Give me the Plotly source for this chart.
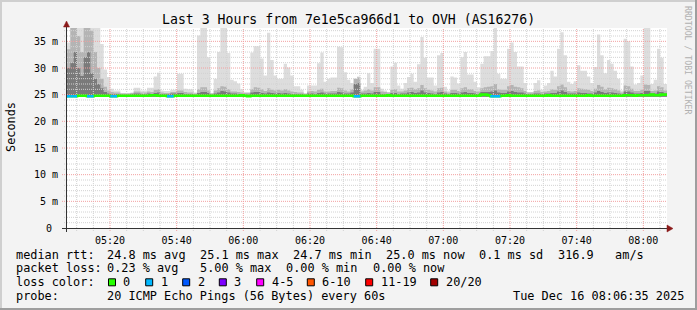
import pandas as pd
import plotly.graph_objects as go

# ---------------- data ----------------
TITLE = "Last 3 Hours from 7e1e5ca966d1 to OVH (AS16276)"
START = pd.Timestamp("2025-12-16 05:07:06")
STEP_MIN = 1
N = 180
TICK_LABELS = ["05:20", "05:40", "06:00", "06:20", "06:40", "07:00", "07:20", "07:40", "08:00"]
Y_TICKS = [0, 5, 10, 15, 20, 25, 30, 35]
Y_TICK_TEXT = ["0\u00a0", "5 m", "10 m", "15 m", "20 m", "25 m", "30 m", "35 m"]

# top of the smoke (outermost ping band), ms
rtt_max = [
    34.8, 38, 38, 38, 38, 38, 38, 38, 38, 38,
    34.5, 29.7, 28.3, 26.1, 25.8, 25.8, 25.3, 25.3, 25.3, 25.4,
    26.3, 26.3, 25.8, 25.8, 26.3, 26.3, 28.4, 29.1, 25.8, 25.7,
    25.7, 25.9, 25.9, 28.9, 28.9, 26.1, 26.0, 26.0, 25.4, 36.1,
    38, 38, 32.0, 25.3, 28.0, 33.0, 38, 38, 32.8, 27.8,
    27.5, 27.1, 26.0, 25.5, 25.5, 32.9, 34.1, 34.1, 31.8, 28.6,
    36.6, 31.5, 28.6, 28.0, 28.0, 30.8, 30.1, 28.6, 26.6, 26.6,
    25.9, 25.1, 26.7, 26.7, 26.7, 30.9, 32.9, 27.4, 28.0, 28.2,
    28.2, 34.0, 33.9, 29.2, 27.8, 27.2, 28.0, 28.4, 25.9, 26.5,
    29.0, 27.2, 33.6, 33.6, 26.1, 25.8, 25.5, 30.3, 31.0, 26.7,
    26.1, 27.2, 28.3, 28.9, 27.4, 30.7, 35.8, 31.9, 28.2, 28.2,
    26.7, 32.4, 32.8, 26.5, 25.8, 28.4, 28.2, 27.1, 32.0, 33.0,
    28.8, 28.8, 27.4, 26.4, 30.8, 32.2, 32.2, 33.2, 38, 28.9,
    28.0, 28.0, 33.6, 34.8, 33.0, 30.3, 30.3, 27.2, 25.5, 25.5,
    27.2, 27.7, 25.9, 26.7, 27.2, 29.5, 28.4, 33.6, 36.7, 32.4,
    27.4, 27.0, 27.5, 30.5, 29.5, 29.5, 28.4, 27.2, 30.2, 36.3,
    32.4, 29.0, 31.5, 30.8, 29.5, 28.0, 25.8, 35.5, 35.0, 30.3,
    26.9, 27.2, 28.6, 38, 38, 27.0, 27.8, 33.6, 31.9, 27.0,
]
# middle ping band, ms
rtt_mid = [
    33.5, 38, 38, 36, 33, 38, 38, 37, 33, 30,
    28, 26.5, 25.8, 25.5, 25.4, 25.4, 25.2, 25.2, 25.2, 25.3,
    25.6, 25.6, 25.4, 25.4, 25.6, 25.5, 25.9, 26.0, 25.4, 25.3,
    25.3, 25.5, 25.5, 25.8, 25.8, 25.5, 25.4, 25.4, 25.2, 26.0,
    26.4, 26.4, 25.8, 25.2, 25.8, 26.2, 26.6, 26.5, 26.0, 25.6,
    25.6, 25.5, 25.4, 25.3, 25.3, 26.0, 26.4, 26.3, 26.0, 25.7,
    26.2, 25.9, 25.8, 25.9, 25.8, 26.0, 25.8, 25.6, 25.5, 25.4,
    25.4, 25.2, 25.6, 25.7, 25.6, 25.9, 26.1, 25.6, 25.6, 25.7,
    25.7, 26.3, 26.2, 25.8, 25.6, 26.0, 28.0, 28.2, 25.6, 25.8,
    26.0, 25.8, 26.4, 26.4, 25.6, 25.5, 25.4, 25.9, 26.0, 25.6,
    25.6, 25.8, 26.2, 26.3, 26.0, 26.2, 26.8, 26.2, 25.9, 25.8,
    25.6, 26.2, 26.3, 25.6, 25.4, 25.9, 25.9, 25.7, 26.2, 26.4,
    26.0, 26.0, 25.7, 25.6, 26.2, 26.4, 26.5, 26.6, 27.0, 26.0,
    25.9, 25.9, 26.6, 26.8, 26.5, 26.4, 26.2, 25.7, 25.4, 25.4,
    25.7, 25.8, 25.5, 25.6, 25.7, 26.0, 25.9, 26.6, 26.9, 26.4,
    25.7, 25.6, 25.7, 26.2, 26.1, 26.0, 25.9, 25.7, 26.1, 26.8,
    26.5, 26.0, 26.3, 26.2, 26.0, 25.8, 25.4, 26.7, 26.6, 26.1,
    25.7, 25.7, 25.9, 26.9, 26.8, 25.7, 25.8, 26.6, 26.4, 25.8,
]
# inner ping band, ms
rtt_dark = [
    30, 31, 33, 30, 28.5, 32, 33, 29, 28, 27,
    26.2, 25.5, 25.2, 25.1, 25.1, 25.1, 25.0, 25.0, 25.0, 25.1,
    25.2, 25.2, 25.1, 25.1, 25.2, 25.1, 25.3, 25.4, 25.1, 25.1,
    25.1, 25.2, 25.2, 25.3, 25.3, 25.1, 25.1, 25.1, 25.0, 25.3,
    25.5, 25.5, 25.3, 25.0, 25.2, 25.4, 25.7, 25.6, 25.4, 25.2,
    25.2, 25.1, 25.1, 25.0, 25.0, 25.4, 25.5, 25.5, 25.3, 25.2,
    25.4, 25.3, 25.2, 25.3, 25.2, 25.3, 25.2, 25.1, 25.1, 25.1,
    25.1, 25.0, 25.2, 25.2, 25.1, 25.3, 25.4, 25.2, 25.2, 25.2,
    25.2, 25.5, 25.4, 25.2, 25.2, 25.4, 27.0, 27.2, 25.2, 25.2,
    25.3, 25.2, 25.5, 25.5, 25.1, 25.1, 25.0, 25.3, 25.3, 25.1,
    25.2, 25.2, 25.4, 25.5, 25.3, 25.4, 25.8, 25.4, 25.3, 25.2,
    25.1, 25.4, 25.5, 25.2, 25.1, 25.3, 25.3, 25.2, 25.4, 25.5,
    25.3, 25.3, 25.2, 25.1, 25.5, 25.5, 25.5, 25.6, 25.8, 25.4,
    25.3, 25.3, 25.6, 25.7, 25.5, 25.4, 25.4, 25.2, 25.1, 25.1,
    25.2, 25.2, 25.1, 25.2, 25.2, 25.3, 25.3, 25.6, 25.8, 25.5,
    25.2, 25.2, 25.2, 25.4, 25.3, 25.3, 25.2, 25.2, 25.4, 25.7,
    25.5, 25.3, 25.4, 25.4, 25.3, 25.2, 25.1, 25.6, 25.6, 25.4,
    25.2, 25.2, 25.3, 25.7, 25.7, 25.2, 25.2, 25.6, 25.5, 25.2,
]
rtt_median = [
    24.7, 24.7, 24.7, 24.8, 24.8, 24.8, 24.7, 24.7, 24.8, 24.8,
    24.8, 24.8, 24.8, 24.7, 24.7, 24.8, 24.8, 24.8, 24.8, 24.8,
    24.8, 24.8, 24.8, 24.8, 24.8, 24.9, 24.9, 24.8, 24.8, 24.8,
    24.7, 24.7, 24.8, 24.8, 24.8, 24.8, 24.8, 24.8, 24.8, 24.8,
    24.8, 24.8, 24.8, 24.8, 24.8, 24.8, 24.8, 24.8, 24.8, 24.8,
    24.8, 24.8, 24.9, 24.8, 24.7, 24.8, 24.8, 24.8, 24.8, 24.8,
    24.8, 24.8, 24.8, 24.8, 24.8, 24.8, 24.8, 24.8, 24.8, 24.8,
    24.8, 24.8, 24.8, 24.8, 24.8, 24.8, 24.8, 24.8, 24.8, 24.8,
    24.8, 24.8, 24.8, 24.8, 24.8, 24.8, 24.7, 24.7, 24.8, 24.8,
    24.8, 24.8, 24.8, 24.8, 24.8, 24.8, 24.9, 24.8, 24.8, 24.8,
    24.8, 24.8, 24.8, 24.8, 24.8, 24.8, 24.8, 24.8, 24.8, 24.8,
    24.8, 24.8, 24.8, 24.8, 24.8, 24.8, 24.8, 24.8, 24.8, 24.8,
    24.8, 24.8, 24.8, 24.8, 25.0, 25.0, 24.9, 24.7, 24.7, 24.7,
    24.8, 24.8, 24.9, 24.8, 24.8, 24.8, 24.8, 24.8, 24.8, 24.8,
    24.8, 24.8, 24.8, 24.8, 24.9, 24.8, 24.8, 24.8, 24.8, 24.8,
    24.8, 24.8, 24.8, 24.8, 24.8, 24.8, 24.9, 24.8, 24.8, 24.8,
    24.8, 24.8, 24.8, 24.8, 24.8, 24.8, 24.8, 24.9, 24.9, 24.9,
    24.8, 24.9, 24.9, 24.9, 24.9, 25.0, 24.9, 24.9, 25.0, 25.0,
]
lost_at = [0, 1, 2, 6, 7, 13, 14, 30, 31, 86, 87, 127, 128, 129]  # samples with 1 of 20 pings lost

LOSS_LABELS = ["0", "1", "2", "3", "4-5", "6-10", "11-19", "20/20"]
LOSS_COLORS = ["#26ff00", "#00b8ff", "#0059ff", "#7e00ff", "#ff00ff", "#ff5500", "#ff0000", "#a10000"]

RTT_STATS = [24.8, 25.1, 24.7, 25.0]
RTT_STAT_NAMES = ["avg", "max", "min", "now"]
RTT_SD = 0.1
RTT_AMS = 316.9
LOSS_STATS = [0.23, 5.00, 0.00, 0.00]
PROBE = "20 ICMP Echo Pings (56 Bytes) every 60s"
STAMP = "Tue Dec 16 08:06:35 2025"

# ---------------- layout helpers ----------------
W, H = 697, 310
PL, PR, PT, PB = 67, 667, 28, 228
Y_TOP = 37.5
FONT = "DejaVu Sans Mono"
GRID_MINOR = "#d2d2d2"
GRID_MAJOR = "#f2a0a0"
DOTS = "1px,1px"

def X(px):
    return (px - PL) / (PR - PL)

def Y(py):
    return (PB - py) / (PB - PT)

step = pd.Timedelta(minutes=STEP_MIN)
edges = [START + i * step for i in range(N + 1)]
END = edges[-1]

def loss_index(k):
    if k <= 3:
        return k
    if k <= 5:
        return 4
    if k <= 10:
        return 5
    if k <= 19:
        return 6
    return 7

loss_count = [1 if i in lost_at else 0 for i in range(N)]

fig = go.Figure()

# smoke
SMOKE_BASE = 24.6
for vals, col in [(rtt_max, "#dddddd"), (rtt_mid, "#b4b4b4"), (rtt_dark, "#7a7a7a")]:
    fig.add_trace(go.Scatter(x=edges, y=[SMOKE_BASE] * (N + 1), mode="lines",
                             line=dict(width=0, shape="hv"), hoverinfo="skip", showlegend=False))
    fig.add_trace(go.Scatter(x=edges, y=vals + [vals[-1]], mode="lines",
                             line=dict(width=0, shape="hv"), fill="tonexty", fillcolor=col,
                             hoverinfo="skip", showlegend=False))

# grid (drawn above the smoke, below the median line)
grid_t = []
t = pd.Timestamp("2025-12-16 05:10:00")
while t < END:
    grid_t.append(t)
    t += pd.Timedelta(minutes=5)

for major in (False, True):
    gx, gy = [], []
    for v in range(1, 38):
        if (v % 5 == 0) == major:
            gx += [START, END, None]
            gy += [v, v, None]
    for t in grid_t:
        if (t.minute % 20 == 0) == major:
            gx += [t, t, None]
            gy += [0, Y_TOP, None]
    fig.add_trace(go.Scatter(x=gx, y=gy, mode="lines",
                             line=dict(color=GRID_MAJOR if major else GRID_MINOR, width=1, dash=DOTS),
                             hoverinfo="skip", showlegend=False))

# median line coloured by loss
fig.add_trace(go.Scatter(x=edges, y=rtt_median + [rtt_median[-1]], mode="lines",
                         line=dict(color=LOSS_COLORS[0], width=2.6, shape="hv"),
                         hoverinfo="skip", showlegend=False))
for lvl in range(1, len(LOSS_COLORS)):
    sx, sy = [], []
    for i in range(N):
        if loss_index(loss_count[i]) == lvl:
            sx += [edges[i], edges[i + 1], None]
            sy += [rtt_median[i], rtt_median[i], None]
    if sx:
        fig.add_trace(go.Scatter(x=sx, y=sy, mode="lines",
                                 line=dict(color=LOSS_COLORS[lvl], width=2.6),
                                 hoverinfo="skip", showlegend=False))

shapes = []
# grid stubs outside the plot area
for v in range(1, 38):
    major = v % 5 == 0
    shapes.append(dict(type="line", xref="paper", yref="y", x0=X(62 if major else 64), x1=X(67), y0=v, y1=v,
                       line=dict(color=GRID_MAJOR if major else GRID_MINOR, width=1, dash=DOTS)))
for t in grid_t:
    major = t.minute % 20 == 0
    shapes.append(dict(type="line", xref="x", yref="paper", x0=t, x1=t, y0=Y(PB + 3), y1=0,
                       line=dict(color=GRID_MAJOR if major else GRID_MINOR, width=1, dash=DOTS)))

AX = "#333333"
ARROW = "#8b1a1a"
shapes += [
    dict(type="line", xref="paper", yref="paper", x0=X(62), x1=X(669), y0=Y(228.5), y1=Y(228.5),
         line=dict(color=AX, width=1), layer="above"),
    dict(type="line", xref="paper", yref="paper", x0=X(66.5), x1=X(66.5), y0=Y(232), y1=Y(26),
         line=dict(color=AX, width=1), layer="above"),
    dict(type="path", xref="paper", yref="paper",
         path=f"M {X(667)} {Y(225)} L {X(673)} {Y(228.5)} L {X(667)} {Y(232)} Z",
         fillcolor=ARROW, line=dict(color=ARROW, width=0.5), layer="above"),
    dict(type="path", xref="paper", yref="paper",
         path=f"M {X(63.5)} {Y(27)} L {X(66.5)} {Y(21)} L {X(69.5)} {Y(27)} Z",
         fillcolor=ARROW, line=dict(color=ARROW, width=0.5), layer="above"),
    # 3D frame
    dict(type="line", xref="paper", yref="paper", x0=X(0), x1=X(W), y0=Y(1), y1=Y(1),
         line=dict(color="#cfcfcf", width=2)),
    dict(type="line", xref="paper", yref="paper", x0=X(1), x1=X(1), y0=Y(0), y1=Y(H),
         line=dict(color="#cfcfcf", width=2)),
    dict(type="line", xref="paper", yref="paper", x0=X(0), x1=X(W), y0=Y(H - 1), y1=Y(H - 1),
         line=dict(color="#9e9e9e", width=2)),
    dict(type="line", xref="paper", yref="paper", x0=X(W - 1), x1=X(W - 1), y0=Y(0), y1=Y(H),
         line=dict(color="#9e9e9e", width=2)),
]

annotations = []
LEG_SIZE = 11.86

def txt(s, x, y, size=LEG_SIZE, anchor="left", color="#000000", angle=0):
    annotations.append(dict(text=s.replace(" ", "\u00a0"), xref="paper", yref="paper", x=X(x), y=Y(y),
                            xanchor=anchor, yanchor="middle", showarrow=False, borderpad=0,
                            textangle=angle, font=dict(family=FONT, size=size, color=color)))

txt(TITLE, 348.5, 19, size=13.2, anchor="center")
txt("Seconds", 11, 127, angle=-90, anchor="center")
txt("RRDTOOL / TOBI OETIKER", 688, 60, size=8.2, anchor="center", color="#b0b0b0", angle=90)

ROW = [254.5, 268.3, 282.3, 296]
txt("median rtt:", 15, ROW[0])
for v, nm, x in zip(RTT_STATS, RTT_STAT_NAMES, [106.3, 199.1, 292, 385]):
    txt(f"{v:.1f} ms {nm}", x, ROW[0])
txt(f"{RTT_SD:.1f} ms sd", 478, ROW[0])
txt(f"{RTT_AMS:.1f}   am/s", 556.6, ROW[0])

txt("packet loss:", 15, ROW[1])
for v, nm, x in zip(LOSS_STATS, RTT_STAT_NAMES, [106.3, 199.1, 284.9, 372]):
    txt(f"{v:.2f} % {nm}", x, ROW[1])

txt("loss color:", 15, ROW[2])
BOX_X = [108.5, 145.7, 182.7, 219.3, 256.7, 307.3, 365.7, 430.7]
for lab, col, bx in zip(LOSS_LABELS, LOSS_COLORS, BOX_X):
    shapes.append(dict(type="rect", xref="paper", yref="paper", x0=X(bx), x1=X(bx + 7),
                       y0=Y(ROW[2] + 3.5), y1=Y(ROW[2] - 3.5), fillcolor=col,
                       line=dict(color="#000000", width=1)))
    txt(lab, bx + 13.8, ROW[2])

txt("probe:", 15, ROW[3])
txt(PROBE, 106.3, ROW[3])
txt(STAMP, 512.3, ROW[3])

tickvals = [pd.Timestamp(f"2025-12-16 {s}:00") for s in TICK_LABELS]

fig.update_layout(
    width=W, height=H,
    margin=dict(l=PL, r=W - PR, t=PT, b=H - PB, pad=0),
    paper_bgcolor="#f3f3f3", plot_bgcolor="#ffffff",
    showlegend=False,
    shapes=shapes, annotations=annotations,
    xaxis=dict(type="date", range=[START, END], showgrid=False, zeroline=False, showline=False,
               tickvals=tickvals, ticktext=TICK_LABELS, ticks="", ticklabelstandoff=5,
               tickfont=dict(family=FONT, size=10, color="#000000"), fixedrange=True),
    yaxis=dict(range=[0, Y_TOP], showgrid=False, zeroline=False, showline=False,
               tickvals=Y_TICKS, ticktext=Y_TICK_TEXT, ticks="", ticklabelstandoff=8,
               tickfont=dict(family=FONT, size=10, color="#000000"), fixedrange=True),
)

fig.write_html("out.html")
